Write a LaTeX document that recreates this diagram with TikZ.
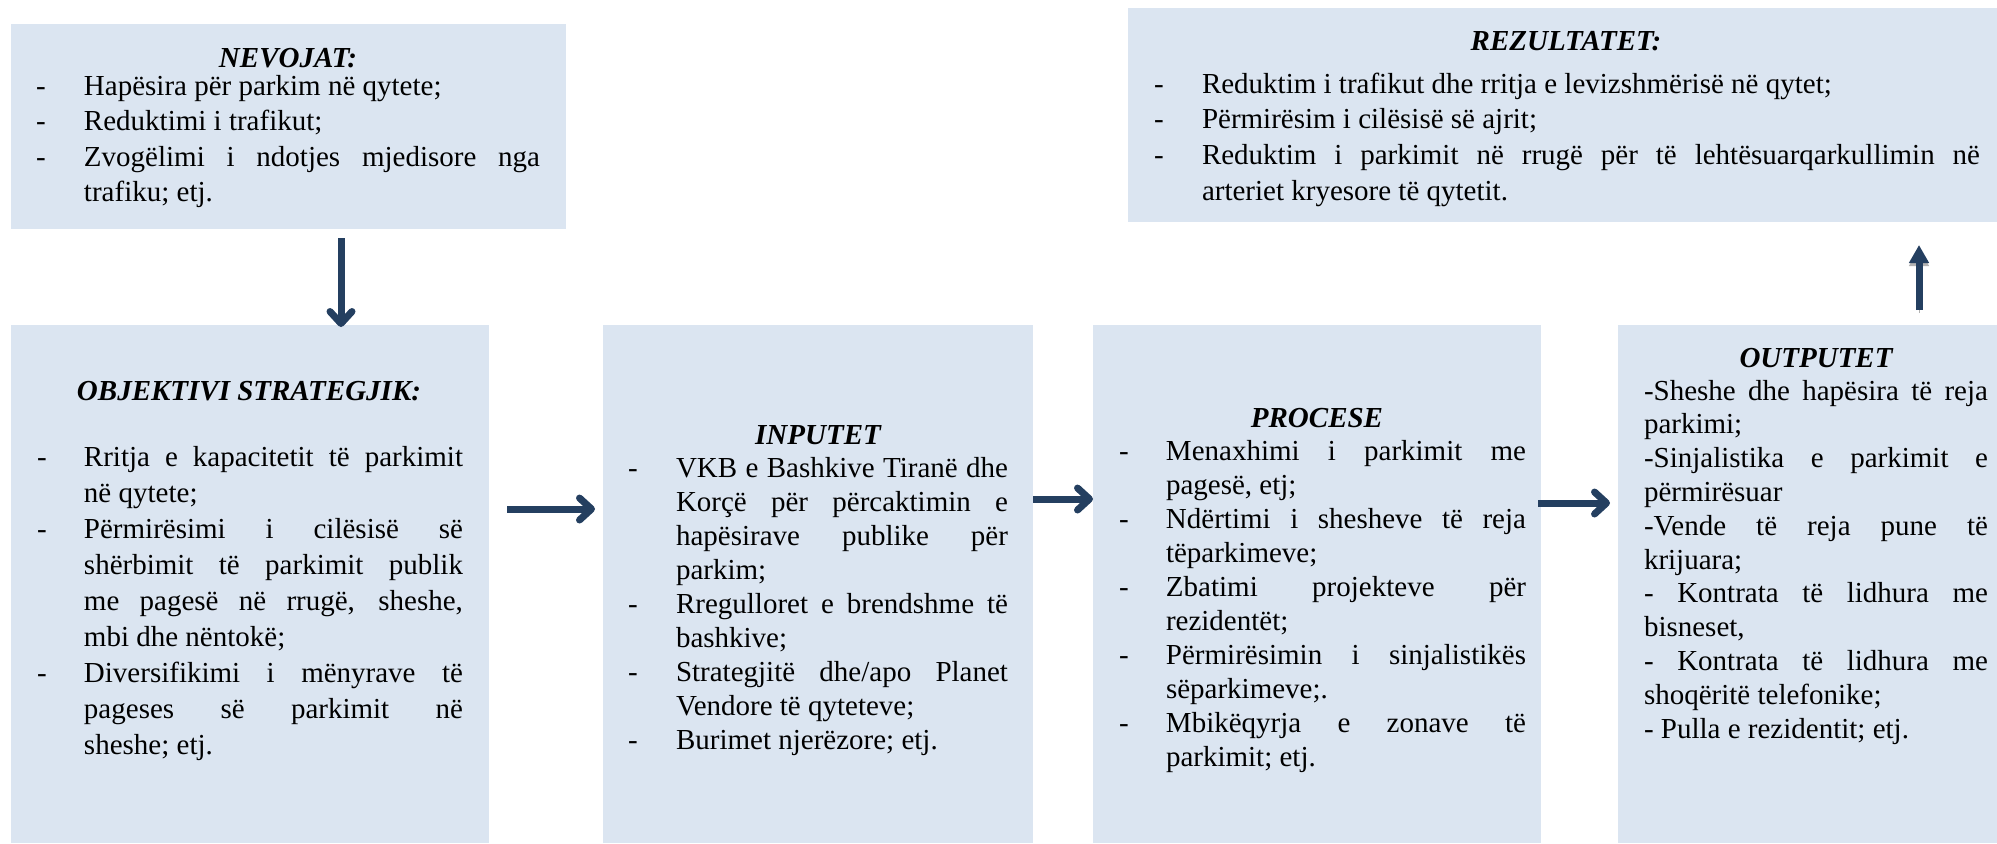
\documentclass[tikz,border=0pt]{standalone}
\usepackage{fontspec}
\setmainfont{Liberation Serif}
\usetikzlibrary{arrows.meta,calc}
\definecolor{boxfill}{HTML}{DBE5F1}
\definecolor{arrcol}{HTML}{243F60}
\newlength\hgi
\newcommand{\itm}[1]{\hangindent=\hgi\hangafter=1\noindent\makebox[\hgi][l]{-}#1\par}
\hyphenpenalty=10000
\exhyphenpenalty=10000
\tolerance=10000
\hbadness=10000
\begin{document}
\begin{tikzpicture}[x=0.5pt,y=-0.5pt,
  box/.style={fill=boxfill, draw=none, inner sep=0pt, outer sep=0pt, anchor=north west},
  ttlnode/.style={inner sep=0pt, outer sep=0pt, anchor=base, font=\fontsize{14.5}{17}\selectfont\bfseries\itshape},
  lst/.style={inner sep=0pt, outer sep=0pt, anchor=base west, align=justify},
  barb/.style={draw=arrcol, line width=3.5pt, line cap=butt, -{Straight Barb[length=6pt,width=11pt,round]}},
  tri/.style={draw=arrcol, line width=3.5pt, -{Triangle[length=9pt,width=9.5pt]}}]
\useasboundingbox (0,0) rectangle (1997,843);

% boxes
\node[box, minimum width=277.5pt, minimum height=102.5pt] (nev) at (11,24) {};
\node[box, minimum width=434.5pt, minimum height=107pt] (rez) at (1128,8) {};
\node[box, minimum width=239pt, minimum height=259pt] (obj) at (11,325) {};
\node[box, minimum width=215pt, minimum height=259pt] (inp) at (603,325) {};
\node[box, minimum width=224pt, minimum height=259pt] (proc) at (1093,325) {};
\node[box, minimum width=189.5pt, minimum height=259pt] (out) at (1618,325) {};

% titles
\node[ttlnode] (nevT) at (288,67) {NEVOJAT:};
\node[ttlnode] (rezT) at (1566,50) {REZULTATET:};
\node[ttlnode] (objT) at (249,400) {OBJEKTIVI STRATEGJIK:};
\node[ttlnode] (inpT) at (818,444) {INPUTET};
\node[ttlnode] (procT) at (1317,427) {PROCESE};
\node[ttlnode] (outT) at (1816,367) {OUTPUTET};

% lists
\node[lst, text width=252pt, font=\fontsize{14.5}{17.8}\selectfont] (nevL) at (36,95)
 {\setlength\hgi{24pt}%
  \itm{Hapësira për parkim në qytete;}%
  \itm{Reduktimi i trafikut;}%
  \itm{Zvogëlimi i ndotjes mjedisore nga\linebreak trafiku; etj.}};

\node[lst, text width=413pt, font=\fontsize{14.5}{17.85}\selectfont] (rezL) at (1154,93)
 {\setlength\hgi{24pt}%
  \itm{Reduktim i trafikut dhe rritja e levizshmërisë në qytet;}%
  \itm{Përmirësim i cilësisë së ajrit;}%
  \itm{Reduktim i parkimit në rrugë për të lehtësuarqarkullimin në\linebreak arteriet kryesore të qytetit.}};

\node[lst, text width=213pt, font=\fontsize{14.5}{18}\selectfont] (objL) at (37,466)
 {\setlength\hgi{23.5pt}%
  \itm{Rritja e kapacitetit të parkimit\linebreak në qytete;}%
  \itm{Përmirësimi i cilësisë së\linebreak shërbimit të parkimit publik\linebreak me pagesë në rrugë, sheshe,\linebreak mbi dhe nëntokë;}%
  \itm{Diversifikimi i mënyrave të\linebreak pageses së parkimit në\linebreak sheshe; etj.}};

\node[lst, text width=190pt, font=\fontsize{14.5}{17.05}\selectfont] (inpL) at (628,477)
 {\setlength\hgi{24pt}%
  \itm{VKB e Bashkive Tiranë dhe\linebreak Korçë për përcaktimin e\linebreak hapësirave publike për\linebreak parkim;}%
  \itm{Rregulloret e brendshme të\linebreak bashkive;}%
  \itm{Strategjitë dhe/apo Planet\linebreak Vendore të qyteteve;}%
  \itm{Burimet njerëzore; etj.}};

\node[lst, text width=203.5pt, font=\fontsize{14.5}{17.05}\selectfont] (procL) at (1119,460)
 {\setlength\hgi{23.5pt}%
  \itm{Menaxhimi i parkimit me\linebreak pagesë, etj;}%
  \itm{Ndërtimi i shesheve të reja\linebreak tëparkimeve;}%
  \itm{Zbatimi projekteve për\linebreak rezidentët;}%
  \itm{Përmirësimin i sinjalistikës\linebreak sëparkimeve;.}%
  \itm{Mbikëqyrja e zonave të\linebreak parkimit; etj.}};

\node[lst, text width=172pt, font=\fontsize{14.5}{16.9}\selectfont] (outL) at (1644,400)
 {\parindent=0pt
  -Sheshe dhe hapësira të reja\linebreak parkimi;\par
  -Sinjalistika e parkimit e\linebreak përmirësuar\par
  -Vende të reja pune të\linebreak krijuara;\par
  - Kontrata të lidhura me\linebreak bisneset,\par
  - Kontrata të lidhura me\linebreak shoqëritë telefonike;\par
  - Pulla e rezidentit; etj.\par};

% arrows
\draw[barb] ($(nev.south west)+(330,9)$) -- ($(obj.north west)+(330,2)$);
\draw[barb] ($(obj.north east)+(18,184)$) -- ($(inp.north west)+(-8,184)$);
\draw[barb] ($(inp.north east)+(0,174)$) -- ($(proc.north west)+(0,174)$);
\draw[barb] ($(proc.north east)+(-3,178)$) -- ($(out.north west)+(-8,178)$);
\draw[tri, preaction={draw=black!30, -{Triangle[length=9pt,width=9.5pt]}, transform canvas={yshift=-1.5pt}}]
  ($(out.north west)+(301,-15)$) -- ($(rez.south west)+(791,23)$);
\end{tikzpicture}
\end{document}
